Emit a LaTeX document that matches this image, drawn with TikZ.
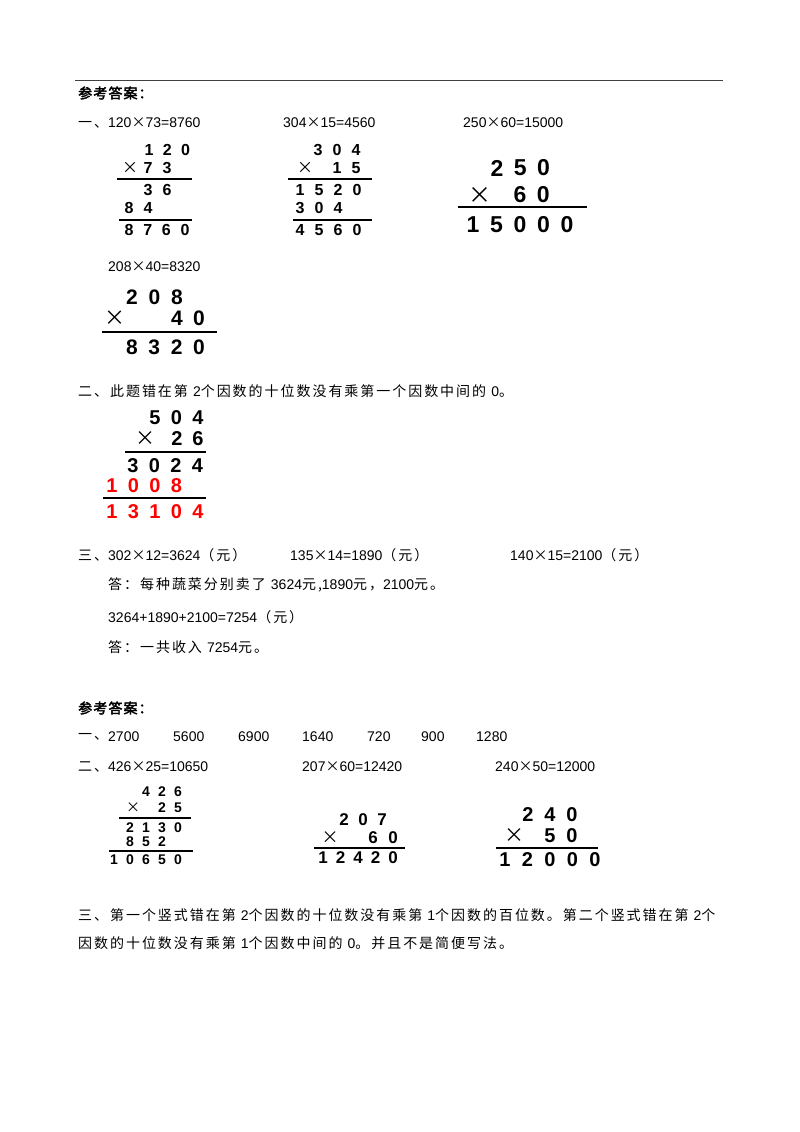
\documentclass[tikz,border=0pt]{standalone}
\usepackage{fontspec}
\setmainfont{Liberation Sans}
\newfontfamily\cj{Noto Sans CJK SC}[LetterSpace=14]
\newfontfamily\cjx{Noto Sans CJK SC}
\newfontfamily\cjb{Noto Sans CJK SC}[FakeBold=2.5,LetterSpace=8]
\newcommand\lt{\fontspec{Liberation Sans}}
\newcommand\tm{{\cjx ×}}
\newcommand\drow[6][black]{\foreach \d [count=\i from 0] in {#6}
  \node[dg,text=#1,font=\fontsize{#5}{#5}\selectfont\bfseries] at ({#2+\i*#4},#3) {\d};}
\newcommand\xx[3]{\node[dg,font=\fontsize{#3}{#3}\selectfont\cjx] at (#1,#2) {×};}
\begin{document}
\begin{tikzpicture}[x=1pt,y=-1pt,
  dg/.style={inner sep=0pt,anchor=center},
  tx/.style={inner sep=0pt,anchor=west,font=\fontsize{14}{16}\selectfont\cj},
  nm/.style={inner sep=0pt,anchor=west,font=\fontsize{14}{16}\selectfont},
  hd/.style={inner sep=0pt,anchor=west,font=\fontsize{14}{16}\selectfont\cjb},
  rl/.style={line width=1.4pt}]
\useasboundingbox (0,0) rectangle (800,1132);
\draw[line width=1pt,black!75] (75,80) -- (723,80);
\node[hd] (h1) at (78,93) {参考答案：};
\node[tx] (t1) at (78,123) {一、\lt 120\tm 73=8760};
\node[nm] (t2) at (283,123) {304\tm 15=4560};
\node[nm] (t3) at (463,123) {250\tm 60=15000};
% block 1
\drow{149}{150}{18.3}{16}{1,2,0}
\xx{130}{168}{16}\drow{148}{168}{19}{16}{7,3}
\draw[rl] (117,179) -- (192,179);
\drow{148}{190}{19}{16}{3,6}
\drow{129}{208}{19}{16}{8,4}
\draw[rl] (119,220) -- (192,220);
\drow{129}{230}{18.7}{16}{8,7,6,0}
% block 2
\drow{318}{150}{19}{16}{3,0,4}
\xx{305}{168}{16}\drow{337}{168}{19}{16}{1,5}
\draw[rl] (288,179) -- (372,179);
\drow{300}{190}{19}{16}{1,5,2,0}
\drow{300}{208}{19}{16}{3,0,4}
\draw[rl] (293,220) -- (372,220);
\drow{300}{230}{19}{16}{4,5,6,0}
% block 3
\drow{497}{168}{23.3}{23}{2,5,0}
\xx{480}{195}{23}\drow{520}{195}{23.3}{23}{6,0}
\draw[rl] (458,207) -- (587,207);
\drow{473}{225}{23.5}{23}{1,5,0,0,0}
% block 208
\node[nm] (t4) at (108,267) {208\tm 40=8320};
\drow{132}{297}{22.5}{21}{2,0,8}
\xx{115}{318}{21}\drow{177}{318}{22}{21}{4,0}
\draw[rl] (102,332) -- (217,332);
\drow{132}{347}{22.3}{21}{8,3,2,0}
% section 2
\node[tx] (t5) at (78,391) {二、此题错在第 \lt 2\cj 个因数的十位数没有乘第一个因数中间的 \lt 0\cj 。};
\drow{155}{418}{21.5}{20}{5,0,4}
\xx{145}{439}{20}\drow{177}{439}{21}{20}{2,6}
\draw[rl] (125,452) -- (206,452);
\drow{133}{466}{21.5}{20}{3,0,2,4}
\drow[red]{112}{486}{21.5}{20}{1,0,0,8}
\draw[rl] (103,498) -- (206,498);
\drow[red]{112}{512}{21.5}{20}{1,3,1,0,4}
% section 3
\node[tx] (t6) at (78,555) {三、\lt 302\tm 12=3624\cj（元）};
\node[tx] (t7) at (290,555) {\lt 135\tm 14=1890\cj（元）};
\node[tx] (t8) at (510,555) {\lt 140\tm 15=2100\cj（元）};
\node[tx] (t9) at (108,585) {答：每种蔬菜分别卖了 \lt 3624\cj 元,\lt 1890\cj 元，\lt 2100\cj 元。};
\node[tx] (t10) at (108,617) {\lt 3264+1890+2100=7254\cj（元）};
\node[tx] (t11) at (108,647) {答：一共收入 \lt 7254\cj 元。};
% second answer
\node[hd] (h2) at (78,708) {参考答案：};
\node[tx] (u0) at (78,737) {一、};
\node[nm] (u1) at (108,737) {2700};
\node[nm] (u2) at (173,737) {5600};
\node[nm] (u3) at (238,737) {6900};
\node[nm] (u4) at (302,737) {1640};
\node[nm] (u5) at (367,737) {720};
\node[nm] (u6) at (421,737) {900};
\node[nm] (u7) at (476,737) {1280};
\node[tx] (v1) at (78,767) {二、\lt 426\tm 25=10650};
\node[nm] (v2) at (302,767) {207\tm 60=12420};
\node[nm] (v3) at (495,767) {240\tm 50=12000};
% block 426
\drow{146}{792}{16}{14}{4,2,6}
\xx{133}{808}{14}\drow{162}{808}{16}{14}{2,5}
\draw[rl] (119,818) -- (191,818);
\drow{130}{828}{16}{14}{2,1,3,0}
\drow{130}{842}{16}{14}{8,5,2}
\draw[rl] (109,851) -- (193,851);
\drow{114}{860}{16}{14}{1,0,6,5,0}
% block 207
\drow{344}{820}{19}{17}{2,0,7}
\xx{330}{838}{17}\drow{373}{838}{20}{17}{6,0}
\draw[rl] (314,848) -- (405,848);
\drow{323}{858}{17.5}{17}{1,2,4,2,0}
% block 240
\drow{528}{815}{22}{20}{2,4,0}
\xx{514}{836}{20}\drow{550}{836}{22}{20}{5,0}
\draw[rl] (496,848) -- (598,848);
\drow{505}{860}{22.5}{20}{1,2,0,0,0}
% section 3 of part 2
\node[tx] (w1) at (78,915) {三、第一个竖式错在第 \lt 2\cj 个因数的十位数没有乘第 \lt 1\cj 个因数的百位数。第二个竖式错在第 \lt 2\cj 个};
\node[tx] (w2) at (78,943) {因数的十位数没有乘第 \lt 1\cj 个因数中间的 \lt 0\cj 。并且不是简便写法。};
\end{tikzpicture}
\end{document}
